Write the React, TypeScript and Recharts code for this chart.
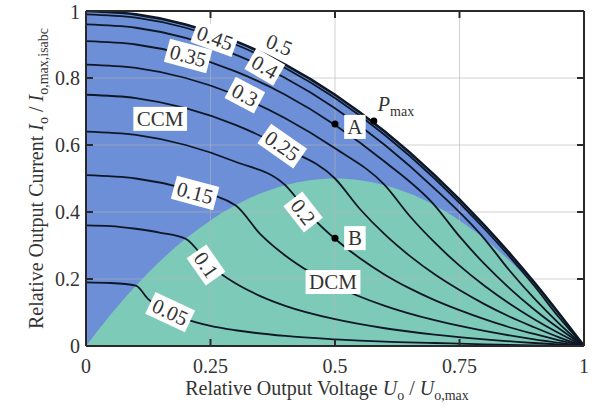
import React from "react";
import {
  ComposedChart,
  XAxis,
  YAxis,
  Area,
  Line,
  ReferenceLine,
  ReferenceDot,
} from "recharts";

const FONT = "'Liberation Serif', 'Times New Roman', serif";
const TEXT = "#333";

const xTicks = [0, 0.25, 0.5, 0.75, 1];
const yTicks = [0, 0.2, 0.4, 0.6, 0.8, 1];
const xGrid = [0.25, 0.5, 0.75];
const yGrid = [0.2, 0.4, 0.6, 0.8];

// outer limit of the operating range (also the 0.5 curve)
const outerLimit = [
  [0, 1], [0.1, 0.99], [0.2, 0.96], [0.3, 0.91], [0.4, 0.84], [0.5, 0.75],
  [0.6, 0.64], [0.7, 0.51], [0.8, 0.36], [0.9, 0.19], [1, 0],
];

// CCM / DCM border
const dcmBorder = [
  [0, 0], [0.05, 0.095], [0.1, 0.18], [0.15, 0.255], [0.2, 0.32], [0.25, 0.375],
  [0.3, 0.42], [0.35, 0.455], [0.4, 0.48], [0.45, 0.495], [0.5, 0.5],
  [0.55, 0.495], [0.6, 0.48], [0.65, 0.455], [0.7, 0.42], [0.75, 0.375],
  [0.8, 0.32], [0.85, 0.255], [0.9, 0.18], [0.95, 0.095], [1, 0],
];

// constant-parameter curves
const c045 = [
  [0, 0.99], [0.1, 0.98], [0.2, 0.95], [0.3, 0.9], [0.4, 0.83], [0.5, 0.74],
  [0.6, 0.63], [0.7, 0.5], [0.8, 0.35], [0.9, 0.18], [0.95, 0.085], [1, 0],
];
const c040 = [
  [0, 0.96], [0.1, 0.95], [0.2, 0.92], [0.3, 0.87], [0.4, 0.8], [0.5, 0.71],
  [0.6, 0.6], [0.7, 0.47], [0.8, 0.32], [0.85, 0.226], [0.9, 0.142],
  [0.95, 0.067], [1, 0],
];
const c035 = [
  [0, 0.91], [0.1, 0.9], [0.2, 0.87], [0.3, 0.82], [0.4, 0.75], [0.5, 0.66],
  [0.6, 0.55], [0.7, 0.42], [0.75, 0.327], [0.8, 0.245], [0.85, 0.173],
  [0.9, 0.109], [0.95, 0.052], [1, 0],
];
const c030 = [
  [0, 0.84], [0.1, 0.83], [0.2, 0.8], [0.3, 0.75], [0.4, 0.68], [0.5, 0.59],
  [0.6, 0.48], [0.65, 0.388], [0.7, 0.309], [0.75, 0.24], [0.8, 0.18],
  [0.85, 0.127], [0.9, 0.08], [0.95, 0.038], [1, 0],
];
const c025 = [
  [0, 0.75], [0.1, 0.74], [0.2, 0.71], [0.3, 0.66], [0.4, 0.59], [0.5, 0.5],
  [0.55, 0.409], [0.6, 0.333], [0.65, 0.269], [0.7, 0.214], [0.75, 0.167],
  [0.8, 0.125], [0.85, 0.088], [0.9, 0.056], [0.95, 0.026], [1, 0],
];
const c020 = [
  [0, 0.64], [0.1, 0.63], [0.2, 0.6], [0.3, 0.55], [0.4, 0.48], [0.45, 0.391],
  [0.5, 0.32], [0.55, 0.262], [0.6, 0.213], [0.65, 0.172], [0.7, 0.137],
  [0.75, 0.107], [0.8, 0.08], [0.85, 0.056], [0.9, 0.036], [0.95, 0.017], [1, 0],
];
const c015 = [
  [0, 0.51], [0.1, 0.5], [0.2, 0.47], [0.3, 0.42], [0.35, 0.334], [0.4, 0.27],
  [0.45, 0.22], [0.5, 0.18], [0.6, 0.12], [0.7, 0.077], [0.8, 0.045],
  [0.9, 0.02], [1, 0],
];
const c010 = [
  [0, 0.36], [0.05, 0.358], [0.1, 0.35], [0.15, 0.338], [0.2, 0.32],
  [0.25, 0.24], [0.3, 0.187], [0.35, 0.149], [0.4, 0.12], [0.5, 0.08],
  [0.6, 0.053], [0.7, 0.034], [0.8, 0.02], [0.9, 0.009], [1, 0],
];
const c005 = [
  [0, 0.19], [0.05, 0.188], [0.1, 0.18], [0.125, 0.14], [0.15, 0.113],
  [0.2, 0.08], [0.25, 0.06], [0.3, 0.047], [0.4, 0.03], [0.5, 0.02],
  [0.6, 0.013], [0.7, 0.009], [0.8, 0.005], [0.9, 0.002], [1, 0],
];

const curves = [c045, c040, c035, c030, c025, c020, c015, c010, c005];

// curve labels: [text, x, y, angle]
const curveLabels: [string, number, number, number][] = [
  ["0.5", 0.388, 0.899, 22],
  ["0.45", 0.259, 0.919, 20],
  ["0.4", 0.359, 0.833, 30],
  ["0.35", 0.205, 0.866, 15],
  ["0.3", 0.319, 0.749, 28],
  ["0.25", 0.394, 0.597, 35],
  ["0.2", 0.436, 0.4, 52],
  ["0.15", 0.219, 0.457, 15],
  ["0.1", 0.241, 0.242, 55],
  ["0.05", 0.169, 0.101, 25],
];

const regionLabels: [string, number, number][] = [
  ["CCM", 0.149, 0.678],
  ["DCM", 0.496, 0.191],
  ["A", 0.54, 0.654],
  ["B", 0.54, 0.322],
];

const points: [number, number][] = [
  [0.5, 0.663],
  [0.5, 0.322],
  [0.578, 0.672],
];

const toPts = (a: number[][]) => a.map(([x, y]) => ({ x, y }));

const charW = (c: string) =>
  c === "." ? 0.25 : c === "C" ? 0.667 : c === "M" ? 0.889 : c === "D" ? 0.722 : c === "A" || c === "B" ? 0.69 : 0.5;

const BoxLabel = ({ cx, cy, text, angle, size }: any) => {
  const w = text.split("").reduce((s: number, c: string) => s + charW(c), 0) * size + 7;
  const h = size + 3;
  return (
    <g transform={`translate(${cx},${cy}) rotate(${angle})`}>
      <rect x={-w / 2} y={-h / 2} width={w} height={h} fill="#fff" />
      <text
        x={0}
        y={size * 0.34}
        textAnchor="middle"
        fontFamily={FONT}
        fontSize={size}
        fill={TEXT}
      >
        {text}
      </text>
    </g>
  );
};

const PmaxLabel = ({ cx, cy }: any) => (
  <text x={cx + 4} y={cy - 10} fontFamily={FONT} fontSize={20} fill={TEXT}>
    <tspan fontStyle="italic">P</tspan>
    <tspan dy={5} fontSize={14}>max</tspan>
  </text>
);

const XTitle = ({ viewBox }: any) => (
  <text
    x={viewBox.x + viewBox.width / 2 - 8}
    y={viewBox.y + 49}
    textAnchor="middle"
    fontFamily={FONT}
    fontSize={20}
    fill={TEXT}
  >
    Relative Output Voltage <tspan fontStyle="italic">U</tspan>
    <tspan dy={5} fontSize={14}>o</tspan>
    <tspan dy={-5}> / </tspan>
    <tspan fontStyle="italic">U</tspan>
    <tspan dy={5} fontSize={14}>o,max</tspan>
  </text>
);

const YTitle = ({ viewBox }: any) => {
  const cx = 43;
  const cy = viewBox.y + viewBox.height / 2;
  return (
    <text
      x={cx}
      y={cy}
      transform={`rotate(-90, ${cx}, ${cy})`}
      textAnchor="middle"
      fontFamily={FONT}
      fontSize={20}
      fill={TEXT}
    >
      Relative Output Current <tspan fontStyle="italic">I</tspan>
      <tspan dy={5} fontSize={14}>o</tspan>
      <tspan dy={-5}> / </tspan>
      <tspan fontStyle="italic">I</tspan>
      <tspan dy={5} fontSize={14}>o,max,isabc</tspan>
    </text>
  );
};

const tickStyle = { fontFamily: FONT, fontSize: 20, fill: TEXT };
const FRAME = "#2a2a2a";
const CURVE = "#0d1726";

export default function App() {
  return (
    <div style={{ position: "absolute", left: 0, top: 0, background: "#fff" }}>
      <ComposedChart
        width={602}
        height={419}
        margin={{ top: 11, right: 18, bottom: 0, left: 0 }}
      >
        <XAxis
          dataKey="x"
          type="number"
          domain={[0, 1]}
          ticks={xTicks}
          allowDataOverflow
          axisLine={false}
          tickLine={false}
          tickMargin={7}
          tick={tickStyle}
          height={73}
          label={(p: any) => <XTitle {...p} />}
        />
        <YAxis
          dataKey="y"
          type="number"
          domain={[0, 1]}
          ticks={yTicks}
          allowDataOverflow
          axisLine={false}
          tickLine={false}
          tickMargin={0}
          tick={tickStyle}
          width={86}
          label={(p: any) => <YTitle {...p} />}
        />

        <Area
          data={toPts(outerLimit)}
          dataKey="y"
          type="monotone"
          fill="#6c8fd8"
          fillOpacity={1}
          stroke="none"
          isAnimationActive={false}
        />
        <Area
          data={toPts(dcmBorder)}
          dataKey="y"
          type="monotone"
          fill="#7ecab8"
          fillOpacity={1}
          stroke="none"
          isAnimationActive={false}
        />

        {xGrid.map((v) => (
          <ReferenceLine key={"gx" + v} x={v} stroke="#b4b4b4" strokeOpacity={0.6} />
        ))}
        {yGrid.map((v) => (
          <ReferenceLine key={"gy" + v} y={v} stroke="#b4b4b4" strokeOpacity={0.6} />
        ))}

        {curves.map((c, i) => (
          <Line
            key={i}
            data={toPts(c)}
            dataKey="y"
            type="monotone"
            stroke={CURVE}
            strokeWidth={1.8}
            dot={false}
            activeDot={false}
            isAnimationActive={false}
          />
        ))}
        <Line
          data={toPts(outerLimit)}
          dataKey="y"
          type="monotone"
          stroke={CURVE}
          strokeWidth={2.6}
          dot={false}
          activeDot={false}
          isAnimationActive={false}
        />

        {/* frame */}
        <ReferenceLine y={0} stroke={FRAME} strokeWidth={2} />
        <ReferenceLine y={1} stroke={FRAME} strokeWidth={2} />
        <ReferenceLine x={0} stroke={FRAME} strokeWidth={2} />
        <ReferenceLine x={1} stroke={FRAME} strokeWidth={2} />
        {/* inward ticks */}
        {xGrid.map((v) => (
          <ReferenceLine key={"tb" + v} segment={[{ x: v, y: 0 }, { x: v, y: 0.021 }]} stroke={FRAME} strokeWidth={2} />
        ))}
        {xGrid.map((v) => (
          <ReferenceLine key={"tt" + v} segment={[{ x: v, y: 1 }, { x: v, y: 0.979 }]} stroke={FRAME} strokeWidth={2} />
        ))}
        {yGrid.map((v) => (
          <ReferenceLine key={"tl" + v} segment={[{ x: 0, y: v }, { x: 0.014, y: v }]} stroke={FRAME} strokeWidth={2} />
        ))}
        {yGrid.map((v) => (
          <ReferenceLine key={"tr" + v} segment={[{ x: 1, y: v }, { x: 0.986, y: v }]} stroke={FRAME} strokeWidth={2} />
        ))}

        {curveLabels.map(([t, x, y, a]) => (
          <ReferenceDot
            key={"cl" + t}
            x={x}
            y={y}
            r={0}
            shape={(p: any) => <BoxLabel cx={p.cx} cy={p.cy} text={t} angle={a} size={21} />}
          />
        ))}
        {points.map(([x, y], i) => (
          <ReferenceDot key={"pt" + i} x={x} y={y} r={3.5} fill="#000" stroke="none" />
        ))}
        {regionLabels.map(([t, x, y]) => (
          <ReferenceDot
            key={"rl" + t}
            x={x}
            y={y}
            r={0}
            shape={(p: any) => <BoxLabel cx={p.cx} cy={p.cy} text={t} angle={0} size={21} />}
          />
        ))}
        <ReferenceDot
          x={0.578}
          y={0.672}
          r={0}
          shape={(p: any) => <PmaxLabel cx={p.cx} cy={p.cy} />}
        />
      </ComposedChart>
    </div>
  );
}
